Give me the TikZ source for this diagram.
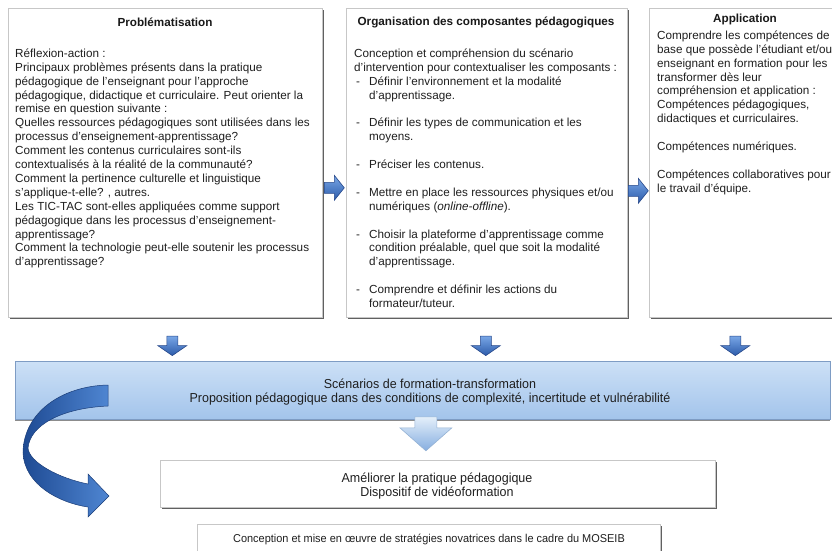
\documentclass[tikz,border=0pt]{standalone}
\usepackage{fontspec}
\setmainfont{Liberation Sans}
\newfontfamily\narrowsans[FakeStretch=0.96]{Liberation Sans}
\usetikzlibrary{shadows,calc}

\definecolor{arrowtop}{HTML}{78A6E6}
\definecolor{arrowbot}{HTML}{2C5BAA}
\definecolor{arrowline}{HTML}{27488A}
\definecolor{bandtop}{HTML}{CCE0F6}
\definecolor{bandbot}{HTML}{A3C4EB}
\definecolor{bandline}{HTML}{7E9CC4}
\definecolor{bigtop}{HTML}{E4EFFA}
\definecolor{bigbot}{HTML}{86AEE0}
\definecolor{bigline}{HTML}{95B2D4}
\definecolor{curvedark}{HTML}{1E4A93}
\definecolor{curvelight}{HTML}{4F86D2}
\definecolor{curveline}{HTML}{1B3D78}

\newcommand{\itemdash}{\makebox[15pt][l]{\hspace{2pt}-}}
\newcommand{\itemgap}{\hspace*{15pt}}

\begin{document}
\begin{tikzpicture}[x=1pt,y=-1pt,
  panel/.style={draw=black!22, fill=white, line width=0.6pt, inner sep=0pt,
    anchor=north west,
    drop shadow={shadow xshift=1.6pt, shadow yshift=-1.4pt, fill=black!62, opacity=1}},
  band/.style={draw=bandline, top color=bandtop, bottom color=bandbot,
    line width=0.8pt, inner sep=0pt, anchor=north west,
    drop shadow={shadow xshift=0pt, shadow yshift=-1.2pt, fill=black!45, opacity=1}},
  body/.style={inner sep=0pt, align=left, anchor=north west,
    font=\fontsize{11.7}{13.9}\selectfont, text=black!88},
  heading/.style={inner sep=0pt, font=\fontsize{11.7}{13.9}\selectfont\bfseries, text=black!90},
  narrowtext/.style={inner sep=0pt, align=center,
    font=\narrowsans\fontsize{13}{14.5}\selectfont, text=black!88},
  smallnarrow/.style={narrowtext, font=\narrowsans\fontsize{11.4}{14}\selectfont},
  smallarrow/.style={draw=arrowline, line width=0.6pt, top color=arrowtop, bottom color=arrowbot},
  bigarrow/.style={draw=bigline, line width=0.6pt, top color=bigtop, bottom color=bigbot},
  curvearrow/.style={draw=curveline, line width=0.5pt, left color=curvedark, right color=curvelight}
]
\useasboundingbox (0,0) rectangle (832,550);

% three upper panels
\node[panel, minimum width=314pt, minimum height=309pt] (prob) at (8,8) {};
\node[panel, minimum width=281pt, minimum height=309pt] (org) at (346,8) {};
\node[panel, minimum width=200pt, minimum height=309pt] (app) at (649,8) {};

\node[heading] (probT) at (165,22) {Problématisation};
\node[body] (probB) at (15,48.5) {Réflexion-action :\\
Principaux problèmes présents dans la pratique\\
pédagogique de l'enseignant pour l'approche\\
pédagogique, didactique et curriculaire. Peut orienter la\\
remise en question suivante :\\
Quelles ressources pédagogiques sont utilisées dans les\\
processus d'enseignement-apprentissage?\\
Comment les contenus curriculaires sont-ils\\
contextualisés à la réalité de la communauté?\\
Comment la pertinence culturelle et linguistique\\
s'applique-t-elle? , autres.\\
Les TIC-TAC sont-elles appliquées comme support\\
pédagogique dans les processus d'enseignement-\\
apprentissage?\\
Comment la technologie peut-elle soutenir les processus\\
d'apprentissage?};

\node[heading] (orgT) at (486,22) {Organisation des composantes pédagogiques};
\node[body] (orgB) at (354,48.5) {Conception et compréhension du scénario\\
d'intervention pour contextualiser les composants :\\
\itemdash Définir l'environnement et la modalité\\
\itemgap d'apprentissage.\\[13.9pt]
\itemdash Définir les types de communication et les\\
\itemgap moyens.\\[13.9pt]
\itemdash Préciser les contenus.\\[13.9pt]
\itemdash Mettre en place les ressources physiques et/ou\\
\itemgap numériques (\textit{online-offline}).\\[13.9pt]
\itemdash Choisir la plateforme d'apprentissage comme\\
\itemgap condition préalable, quel que soit la modalité\\
\itemgap d'apprentissage.\\[13.9pt]
\itemdash Comprendre et définir les actions du\\
\itemgap formateur/tuteur.};

\node[heading] (appT) at (745,19) {Application};
\node[body] (appB) at (657,30.5) {Comprendre les compétences de\\
base que possède l'étudiant et/ou\\
enseignant en formation pour les\\
transformer dès leur\\
compréhension et application :\\
Compétences pédagogiques,\\
didactiques et curriculaires.\\[13.9pt]
Compétences numériques.\\[13.9pt]
Compétences collaboratives pour\\
le travail d'équipe.};

% arrows between the upper panels
\coordinate (ra1) at ($(prob.east)!0.5!(org.west)+(0,25)$);
\coordinate (ra2) at ($(org.east)!0.5!(app.west)+(0,28)$);
\foreach \c in {ra1,ra2}
  \draw[smallarrow, shift={(\c)}] (-10,-5.5) -- (0,-5.5) -- (0,-12.5) -- (10,0)
    -- (0,12.5) -- (0,5.5) -- (-10,5.5) -- cycle;

% band of scenarios
\node[band, minimum width=815pt, minimum height=58pt] (scen) at (15,361) {};
\node[narrowtext] (scenT) at (430,392) {Scénarios de formation-transformation\\
Proposition pédagogique dans des conditions de complexité, incertitude et vulnérabilité};

% arrows from the panels down to the band
\coordinate (da1) at ($(prob.south)+(7,28)$);
\coordinate (da2) at ($(org.south)+(-1,28)$);
\coordinate (da3) at ($(app.south)+(-14,28)$);
\foreach \c in {da1,da2,da3}
  \draw[smallarrow, shift={(\c)}] (-5.5,-9.5) -- (5.5,-9.5) -- (5.5,0) -- (14.5,0)
    -- (0,10) -- (-14.5,0) -- (-5.5,0) -- cycle;

% lower boxes
\node[panel, minimum width=555pt, minimum height=47pt] (amel) at (160,460) {};
\node[narrowtext] (amelT) at (437,486) {Améliorer la pratique pédagogique\\
Dispositif de vidéoformation};
\node[panel, minimum width=463pt, minimum height=40pt] (conc) at (197,524) {};
\node[smallnarrow] (concT) at (429,539.5) {Conception et mise en œuvre de stratégies novatrices dans le cadre du MOSEIB};

% wide arrow from the band to the improvement box
\coordinate (ba) at ($(scen.south)+(3,-3)$);
\draw[bigarrow, shift={(ba)}] (-11,0) -- (11,0) -- (11,11) -- (26,11) -- (0,34)
  -- (-26,11) -- (-11,11) -- cycle;

% curved return arrow on the left
\draw[curvearrow] (108,385) .. controls (62,386) and (24,412) .. (23,452)
  .. controls (24,485) and (60,503) .. (88,507) -- (88,517) -- (109,496)
  -- (88,474) -- (88,484) .. controls (58,478) and (29,462) .. (28,448)
  .. controls (30,425) and (62,408) .. (108,406) -- cycle;
\end{tikzpicture}
\end{document}
